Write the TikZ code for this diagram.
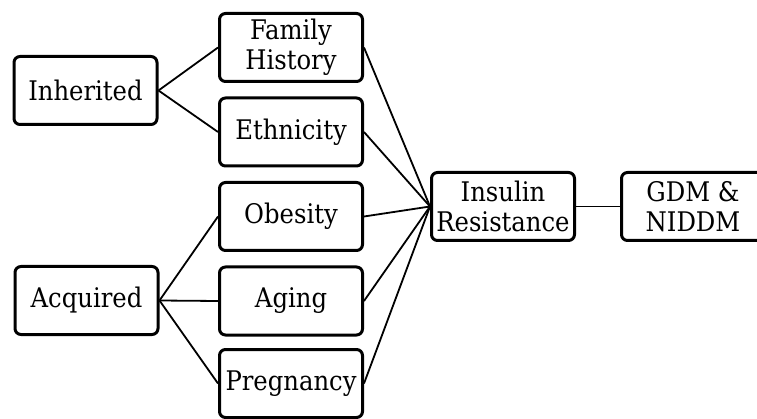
\documentclass[tikz,border=0pt]{standalone}
\usepackage{fontspec}
\setmainfont{DejaVu Serif Condensed}
\begin{document}
\begin{tikzpicture}[x=1pt,y=-1pt,
  box/.style={draw=black, line width=3pt, rounded corners=6pt, fill=white,
    minimum width=143pt, minimum height=68pt, inner sep=0pt, align=center,
    font=\fontsize{27}{30}\selectfont},
  link/.style={draw=black, line width=1.8pt}]
\useasboundingbox (0,0) rectangle (757,419);
\clip (0,0) rectangle (757,419);
\node[box] (inh) at (85.5,90.5) {Inherited};
\node[box] (acq) at (86.5,300.5) {Acquired};
\node[box] (fh) at (291,47.5) {Family\\History};
\node[box] (eth) at (291,132) {Ethnicity};
\node[box] (obe) at (291,216.5) {Obesity};
\node[box] (age) at (291,301) {Aging};
\node[box] (preg) at (291,383.5) {Pregnancy};
\node[box] (ins) at (503,206.5) {Insulin\\Resistance};
\node[box] (gdm) at (693,206.5) {GDM \&\\NIDDM};
\draw[link] (inh.east) -- (fh.west);
\draw[link] (inh.east) -- (eth.west);
\draw[link] (acq.east) -- (obe.west);
\draw[link] (acq.east) -- (age.west);
\draw[link] (acq.east) -- (preg.west);
\draw[link] (fh.east) -- (ins.west);
\draw[link] (eth.east) -- (ins.west);
\draw[link] (obe.east) -- (ins.west);
\draw[link] (age.east) -- (ins.west);
\draw[link] (preg.east) -- (ins.west);
\draw[link] (ins.east) -- (gdm.west);
\end{tikzpicture}
\end{document}
